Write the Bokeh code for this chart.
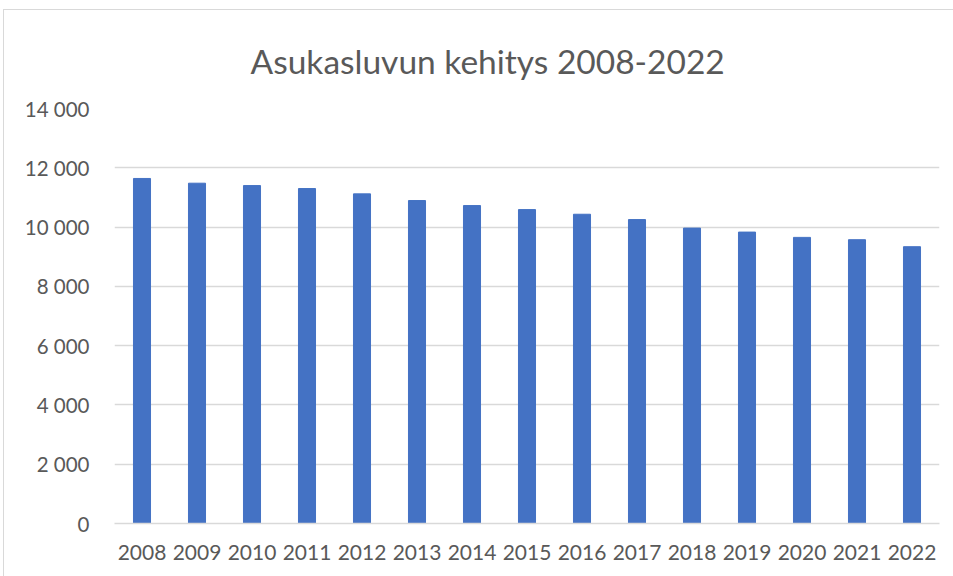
from bokeh.plotting import figure
from bokeh.models import FactorRange, Range1d, FixedTicker
from bokeh.embed import file_html
from bokeh.resources import INLINE

years = [str(y) for y in range(2008, 2023)]
population = [11640, 11480, 11400, 11300, 11120, 10895, 10726, 10590,
              10433, 10253, 9966, 9831, 9652, 9574, 9338]
y_ticks = [0, 2000, 4000, 6000, 8000, 10000, 12000, 14000]
y_tick_labels = ["0", "2 000", "4 000", "6 000", "8 000", "10 000", "12 000", "14 000"]
title_text = "Asukasluvun kehitys 2008-2022"

FONT = "Lato"
TXT = "#595959"
GRID = "#D9D9D9"

p = figure(x_range=FactorRange(*years, range_padding=0), y_range=Range1d(0, 14000),
           width=950, height=567, output_backend="svg", toolbar_location=None,
           margin=(9, 0, 0, 3), styles={"border-left": "1px solid #D9D9D9",
                                        "border-top": "1px solid #D9D9D9"},
           min_border_left=110, min_border_right=15, min_border_top=96,
           min_border_bottom=54)

p.vbar(x=years, top=population, width=0.31, color="#4472C4")

p.title.text = title_text
p.title.text_font = FONT
p.title.text_font_size = "33.5px"
p.title.text_font_style = "normal"
p.title.text_color = TXT
p.title.align = "left"
p.title.offset = 136
p.title.standoff = 56

p.outline_line_color = None
p.xgrid.grid_line_color = None
p.ygrid.grid_line_color = GRID
p.ygrid.grid_line_width = 1.5
p.yaxis.ticker = FixedTicker(ticks=y_ticks)
p.yaxis.major_label_overrides = {t: l for t, l in zip(y_ticks, y_tick_labels)}
p.yaxis.axis_line_color = None
p.yaxis.major_tick_line_color = None
p.yaxis.minor_tick_line_color = None
p.yaxis.major_label_standoff = 19
p.yaxis.major_label_text_font = FONT
p.yaxis.major_label_text_font_size = "20.5px"
p.yaxis.major_label_text_color = TXT

p.xaxis.axis_line_color = GRID
p.xaxis.axis_line_width = 1.5
p.xaxis.major_tick_line_color = None
p.xaxis.minor_tick_line_color = None
p.xaxis.major_label_standoff = 15
p.xaxis.major_label_text_font = FONT
p.xaxis.major_label_text_font_size = "21px"
p.xaxis.major_label_text_color = TXT

open("out.html", "w").write(file_html(p, INLINE))
